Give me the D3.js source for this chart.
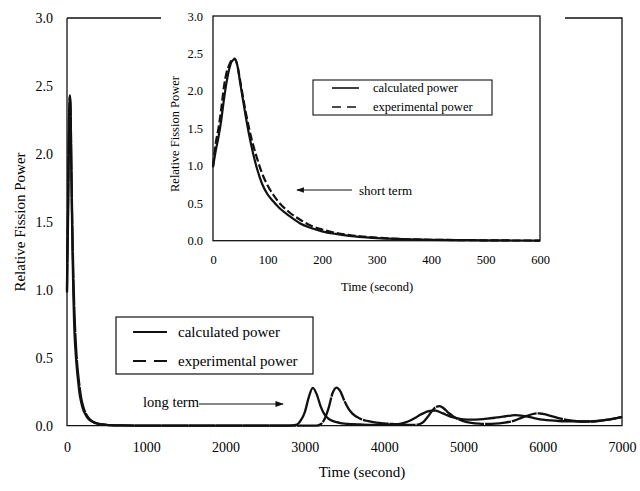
<!DOCTYPE html>
<html>
<head>
<meta charset="utf-8">
<script src="https://cdn.jsdelivr.net/npm/d3@7"></script>
<style>
  body { margin: 0; background: #fff; }
  text { font-family: "Liberation Serif", "Times New Roman", serif; fill: #000; }
</style>
</head>
<body>
<svg id="chart" width="640" height="491"></svg>
<script>
// Short-term transient (seconds, relative fission power)
const shortTime = [0, 5, 10, 15, 20, 25, 30, 35, 40, 45, 50, 55, 60, 70, 80, 90, 100, 110, 120, 140, 160, 180, 200, 225, 250, 275, 300, 350, 400, 450, 500, 550, 600];
const shortCalc = [0.98, 1.2, 1.38, 1.6, 1.88, 2.12, 2.3, 2.4, 2.42, 2.33, 2.1, 1.88, 1.66, 1.28, 0.98, 0.76, 0.62, 0.53, 0.45, 0.33, 0.23, 0.17, 0.125, 0.09, 0.065, 0.048, 0.035, 0.02, 0.012, 0.008, 0.005, 0.003, 0.002];
const shortExp  = [1.0, 1.3, 1.5, 1.75, 2.05, 2.25, 2.35, 2.42, 2.43, 2.33, 2.13, 1.92, 1.72, 1.38, 1.12, 0.9, 0.74, 0.62, 0.52, 0.38, 0.28, 0.2, 0.15, 0.105, 0.075, 0.055, 0.04, 0.022, 0.013, 0.008, 0.005, 0.003, 0.002];

// Long-term behaviour after the transient
const longTime = [700, 1000, 2000, 2800, 2900, 2950, 3000, 3050, 3100, 3150, 3200, 3250, 3300, 3350, 3400, 3450, 3500, 3550, 3600, 3700, 3800, 3900, 4000, 4100, 4200, 4300, 4400, 4450, 4500, 4550, 4600, 4650, 4700, 4750, 4800, 4850, 4900, 5000, 5100, 5200, 5300, 5400, 5500, 5600, 5650, 5700, 5800, 5900, 5950, 6000, 6100, 6200, 6300, 6400, 6500, 6600, 6700, 6800, 6900, 7000];
const longCalc = [0.001, 0, 0, 0, 0.008, 0.04, 0.1, 0.21, 0.277, 0.23, 0.14, 0.08, 0.05, 0.035, 0.025, 0.019, 0.015, 0.012, 0.01, 0.008, 0.006, 0.006, 0.006, 0.008, 0.013, 0.03, 0.06, 0.078, 0.092, 0.104, 0.11, 0.11, 0.1, 0.088, 0.075, 0.064, 0.056, 0.046, 0.044, 0.046, 0.051, 0.058, 0.066, 0.074, 0.077, 0.076, 0.068, 0.054, 0.048, 0.044, 0.038, 0.034, 0.032, 0.031, 0.03, 0.031, 0.035, 0.042, 0.052, 0.063];
const longExp  = [0.001, 0, 0, 0, 0, 0, 0, 0, 0, 0, 0.01, 0.05, 0.13, 0.24, 0.28, 0.25, 0.18, 0.125, 0.088, 0.05, 0.033, 0.022, 0.016, 0.012, 0.008, 0.006, 0.006, 0.012, 0.03, 0.065, 0.105, 0.135, 0.143, 0.128, 0.1, 0.078, 0.058, 0.033, 0.02, 0.014, 0.012, 0.014, 0.02, 0.03, 0.038, 0.05, 0.072, 0.088, 0.09, 0.086, 0.072, 0.055, 0.042, 0.034, 0.03, 0.03, 0.034, 0.042, 0.052, 0.064];

const mainXTicks = [0, 1000, 2000, 3000, 4000, 5000, 6000, 7000];
const yTicks = [0, 0.5, 1.0, 1.5, 2.0, 2.5, 3.0];
const insetXTicks = [0, 100, 200, 300, 400, 500, 600];
const seriesNames = ["calculated power", "experimental power"];

const ink = "#111";
const svg = d3.select("#chart");

const zip = (ts, vs) => ts.map((t, i) => [t, vs[i]]);
const calcAll = zip(shortTime, shortCalc).concat(zip(longTime, longCalc));
const expAll  = zip(shortTime, shortExp).concat(zip(longTime, longExp));

// ---------- main chart ----------
const M = { left: 67, right: 622, top: 18, bottom: 425.6 };
const x = d3.scaleLinear().domain([0, 7000]).range([M.left, M.right]);
const y = d3.scaleLinear().domain([0, 3]).range([M.bottom, M.top]);

const line = d3.line().x(d => x(d[0])).y(d => y(d[1])).curve(d3.curveMonotoneX);

const main = svg.append("g");

main.append("path").datum(calcAll).attr("d", line)
  .attr("fill", "none").attr("stroke", ink).attr("stroke-width", 2.3);
main.append("path").datum(expAll).attr("d", line)
  .attr("fill", "none").attr("stroke", ink).attr("stroke-width", 2.3)
  .attr("stroke-dasharray", "26,1");

// frame
main.append("path")
  .attr("d", `M${M.left},${M.top}V${M.bottom}H${M.right}V${M.top}H${M.left}`)
  .attr("fill", "none").attr("stroke", ink).attr("stroke-width", 1.3);

const yAxis = main.append("g").attr("transform", `translate(${M.left},0)`)
  .call(d3.axisLeft(y).tickValues(yTicks).tickFormat(d3.format(".1f")).tickSize(0).tickPadding(14));
const xAxis = main.append("g").attr("transform", `translate(0,${M.bottom})`)
  .call(d3.axisBottom(x).tickValues(mainXTicks).tickFormat(d3.format("d")).tickSize(0).tickPadding(16));
[yAxis, xAxis].forEach(g => {
  g.select(".domain").remove();
  g.selectAll("text").style("font-family", '"Liberation Serif", serif').style("font-size", "14px").attr("fill", "#000");
});

main.append("text").attr("x", 362).attr("y", 477).attr("text-anchor", "middle")
  .style("font-size", "15px").text("Time (second)");
main.append("text").attr("transform", "translate(25,222) rotate(-90)").attr("text-anchor", "middle")
  .style("font-size", "15px").text("Relative Fission Power");

// main legend
const lg = main.append("g");
lg.append("rect").attr("x", 116).attr("y", 317).attr("width", 197).attr("height", 57)
  .attr("fill", "#fff").attr("stroke", ink).attr("stroke-width", 1.2);
[332, 361].forEach((ly, i) => {
  lg.append("line").attr("x1", 133).attr("x2", 167).attr("y1", ly).attr("y2", ly)
    .attr("stroke", ink).attr("stroke-width", 1.8)
    .attr("stroke-dasharray", i === 1 ? "13,8" : null);
  lg.append("text").attr("x", 178).attr("y", ly + 5).style("font-size", "15px").text(seriesNames[i]);
});

// "long term" callout
const defs = svg.append("defs");
defs.append("marker").attr("id", "arrow").attr("viewBox", "0 0 10 10").attr("refX", 9).attr("refY", 5)
  .attr("markerWidth", 7).attr("markerHeight", 7).attr("orient", "auto-start-reverse")
  .append("path").attr("d", "M0,1.5L10,5L0,8.5Z").attr("fill", ink);

main.append("text").attr("x", 143).attr("y", 407).style("font-size", "14.5px").text("long term");
main.append("line").attr("x1", 199).attr("x2", 283).attr("y1", 404).attr("y2", 404)
  .attr("stroke", ink).attr("stroke-width", 1.2).attr("marker-end", "url(#arrow)");

// ---------- inset: short-term detail ----------
const I = { left: 213, right: 540, top: 16, bottom: 240.7 };
const inset = svg.append("g");
inset.append("rect").attr("x", 161).attr("y", 0).attr("width", 404).attr("height", 302).attr("fill", "#fff");

const xi = d3.scaleLinear().domain([0, 600]).range([I.left, I.right]);
const yi = d3.scaleLinear().domain([0, 3]).range([I.bottom, I.top]);
const lineI = d3.line().x(d => xi(d[0])).y(d => yi(d[1])).curve(d3.curveMonotoneX);

inset.append("path").datum(zip(shortTime, shortCalc)).attr("d", lineI)
  .attr("fill", "none").attr("stroke", ink).attr("stroke-width", 2.2);
inset.append("path").datum(zip(shortTime, shortExp)).attr("d", lineI)
  .attr("fill", "none").attr("stroke", ink).attr("stroke-width", 2.2).attr("stroke-dasharray", "8,3");

inset.append("rect").attr("x", I.left).attr("y", I.top)
  .attr("width", I.right - I.left).attr("height", I.bottom - I.top)
  .attr("fill", "none").attr("stroke", ink).attr("stroke-width", 1.3);

const yAxisI = inset.append("g").attr("transform", `translate(${I.left},0)`)
  .call(d3.axisLeft(yi).tickValues(yTicks).tickFormat(d3.format(".1f")).tickSize(0).tickPadding(10));
const xAxisI = inset.append("g").attr("transform", `translate(0,${I.bottom})`)
  .call(d3.axisBottom(xi).tickValues(insetXTicks).tickFormat(d3.format("d")).tickSize(0).tickPadding(14));
[yAxisI, xAxisI].forEach(g => {
  g.select(".domain").remove();
  g.selectAll("text").style("font-family", '"Liberation Serif", serif').style("font-size", "12.5px").attr("fill", "#000");
});

inset.append("text").attr("x", 377).attr("y", 291).attr("text-anchor", "middle")
  .style("font-size", "12.5px").text("Time (second)");
inset.append("text").attr("transform", "translate(179,134) rotate(-90)").attr("text-anchor", "middle")
  .style("font-size", "12.5px").text("Relative Fission Power");

// inset legend
const lgi = inset.append("g");
lgi.append("rect").attr("x", 313).attr("y", 80).attr("width", 179).attr("height", 35)
  .attr("fill", "#fff").attr("stroke", ink).attr("stroke-width", 1.1);
[88, 107].forEach((ly, i) => {
  lgi.append("line").attr("x1", 332).attr("x2", 359).attr("y1", ly).attr("y2", ly)
    .attr("stroke", ink).attr("stroke-width", 1.6)
    .attr("stroke-dasharray", i === 1 ? "9,6" : null);
  lgi.append("text").attr("x", 373).attr("y", ly + 4).style("font-size", "12.5px").text(seriesNames[i]);
});

// "short term" callout
inset.append("text").attr("x", 359).attr("y", 195).style("font-size", "13px").text("short term");
inset.append("line").attr("x1", 352).attr("x2", 297).attr("y1", 190).attr("y2", 190)
  .attr("stroke", ink).attr("stroke-width", 1.1).attr("marker-end", "url(#arrow)");
</script>
</body>
</html>
